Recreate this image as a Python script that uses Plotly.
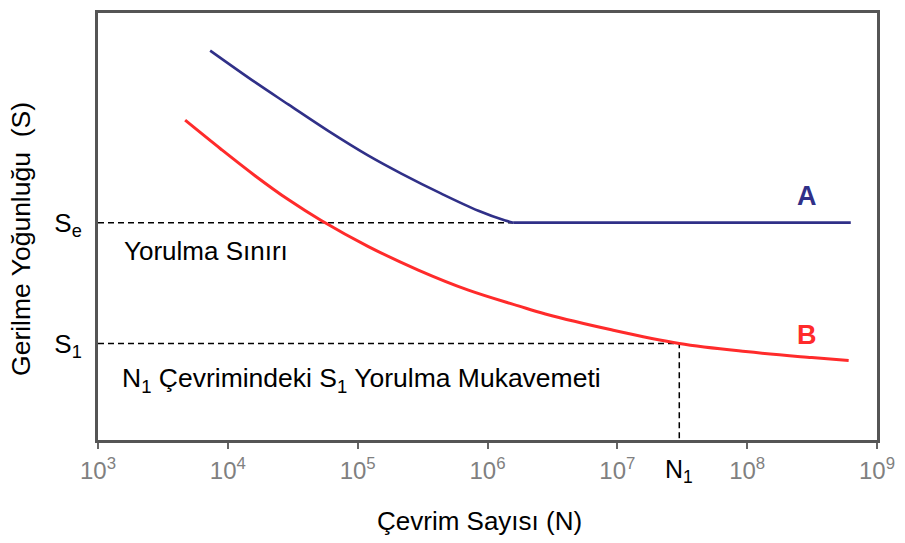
import numpy as np
import plotly.graph_objects as go

# S-N (Wöhler) curves: cycles N and stress S (arbitrary units)
# curve A: sloped part down to the knee, then the endurance limit plateau
n_a = [7.31e3, 1.62e4, 2.92e4, 5.93e4, 1.21e5, 2.17e5, 4.41e5, 8.51e5, 1.37e6, 1.58e6]
s_a = [91.2, 83.8, 78.6, 72.4, 66.6, 62.4, 57.7, 53.7, 51.4, 50.9]
n_a_flat = [1.58e6, 6.28e8]
s_a_flat = [50.9, 50.9]

# curve B: no endurance limit
n_b = [4.69e3, 8.87e3, 1.62e4, 2.92e4, 5.24e4, 1.21e5, 2.93e5, 7.13e5, 1.73e6,
       2.79e6, 9.0e6, 3.0e7, 9.73e7, 3.14e8, 6.05e8]
s_b = [74.9, 68.1, 61.9, 56.3, 51.4, 45.3, 39.8, 35.1, 31.4,
       29.5, 25.8, 22.6, 20.7, 19.3, 18.6]

SE = 50.9        # endurance limit
S1 = 22.6        # fatigue strength at N1 cycles
N1 = 3.0e7
N_KNEE = 1.58e6

x_ticks = [1e3, 1e4, 1e5, 1e6, 1e7, 1e8, 1e9]
x_tick_text = ["10<sup>3</sup>", "10<sup>4</sup>", "10<sup>5</sup>", "10<sup>6</sup>",
               "10<sup>7</sup>", "10<sup>8</sup>", "10<sup>9</sup>"]

FONT = "Liberation Sans, Arial, sans-serif"
BLUE = "#303088"
RED = "#ff2b2b"
DASH = dict(color="black", width=1.5, dash="6px,4px")

fig = go.Figure()

# dashed guide lines
fig.add_trace(go.Scatter(x=[1e3, N_KNEE], y=[SE, SE], mode="lines", line=DASH,
                         hoverinfo="skip", showlegend=False))
fig.add_trace(go.Scatter(x=[1e3, N1, N1], y=[S1, S1, 0], mode="lines", line=DASH,
                         hoverinfo="skip", showlegend=False))

# curve A
fig.add_trace(go.Scatter(x=n_a, y=s_a, mode="lines",
                         line=dict(color=BLUE, width=2.6, shape="spline", smoothing=1.0),
                         showlegend=False))
fig.add_trace(go.Scatter(x=n_a_flat, y=s_a_flat, mode="lines",
                         line=dict(color=BLUE, width=2.6), showlegend=False))
# curve B
fig.add_trace(go.Scatter(x=n_b, y=s_b, mode="lines",
                         line=dict(color=RED, width=3, shape="spline", smoothing=1.0),
                         showlegend=False))

annotations = [
    dict(x=3.185, y=44.2, xref="x", yref="y", text="Yorulma Sınırı",
         showarrow=False, xanchor="left", yanchor="middle",
         font=dict(family=FONT, size=26, color="black")),
    dict(x=3.17, y=14.0, xref="x", yref="y",
         text="N<sub>1</sub> Çevrimindeki S<sub>1</sub> Yorulma Mukavemeti",
         showarrow=False, xanchor="left", yanchor="middle",
         font=dict(family=FONT, size=26.5, color="black")),
    dict(x=8.46, y=57.2, xref="x", yref="y", text="<b>A</b>", showarrow=False,
         xanchor="center", yanchor="middle",
         font=dict(family=FONT, size=27, color=BLUE)),
    dict(x=8.46, y=24.6, xref="x", yref="y", text="<b>B</b>", showarrow=False,
         xanchor="center", yanchor="middle",
         font=dict(family=FONT, size=27, color=RED)),
    dict(x=np.log10(N1), y=-0.072, xref="x", yref="paper", text="N<sub>1</sub>",
         showarrow=False, xanchor="center", yanchor="middle",
         font=dict(family=FONT, size=25, color="black")),
    dict(x=0.49, y=-0.19, xref="paper", yref="paper", text="Çevrim Sayısı (N)",
         showarrow=False, xanchor="center", yanchor="middle",
         font=dict(family=FONT, size=26, color="black")),
    dict(x=-0.098, y=0.47, xref="paper", yref="paper",
         text="Gerilme Yoğunluğu \u00a0(S)", textangle=-90,
         showarrow=False, xanchor="center", yanchor="middle",
         font=dict(family=FONT, size=26.5, color="black")),
]

fig.update_layout(
    width=905, height=543,
    margin=dict(l=98, r=27, t=10, b=103),
    paper_bgcolor="white", plot_bgcolor="white",
    annotations=annotations,
    showlegend=False,
)
fig.update_xaxes(type="log", range=[3, 9], tickvals=x_ticks, ticktext=x_tick_text,
                 ticks="outside", ticklen=6, tickwidth=2, tickcolor="#666",
                 ticklabelstandoff=1,
                 tickfont=dict(family=FONT, size=24, color="#808080"),
                 showgrid=False, zeroline=False,
                 showline=True, linecolor="#555", linewidth=3, mirror=True)
fig.update_yaxes(range=[0, 100], tickvals=[S1, SE],
                 ticktext=["S<sub>1</sub>", "S<sub>e</sub>"], ticks="",
                 ticklabelstandoff=8,
                 tickfont=dict(family=FONT, size=26, color="black"),
                 showgrid=False, zeroline=False,
                 showline=True, linecolor="#555", linewidth=3, mirror=True)

fig.write_html("out.html")
